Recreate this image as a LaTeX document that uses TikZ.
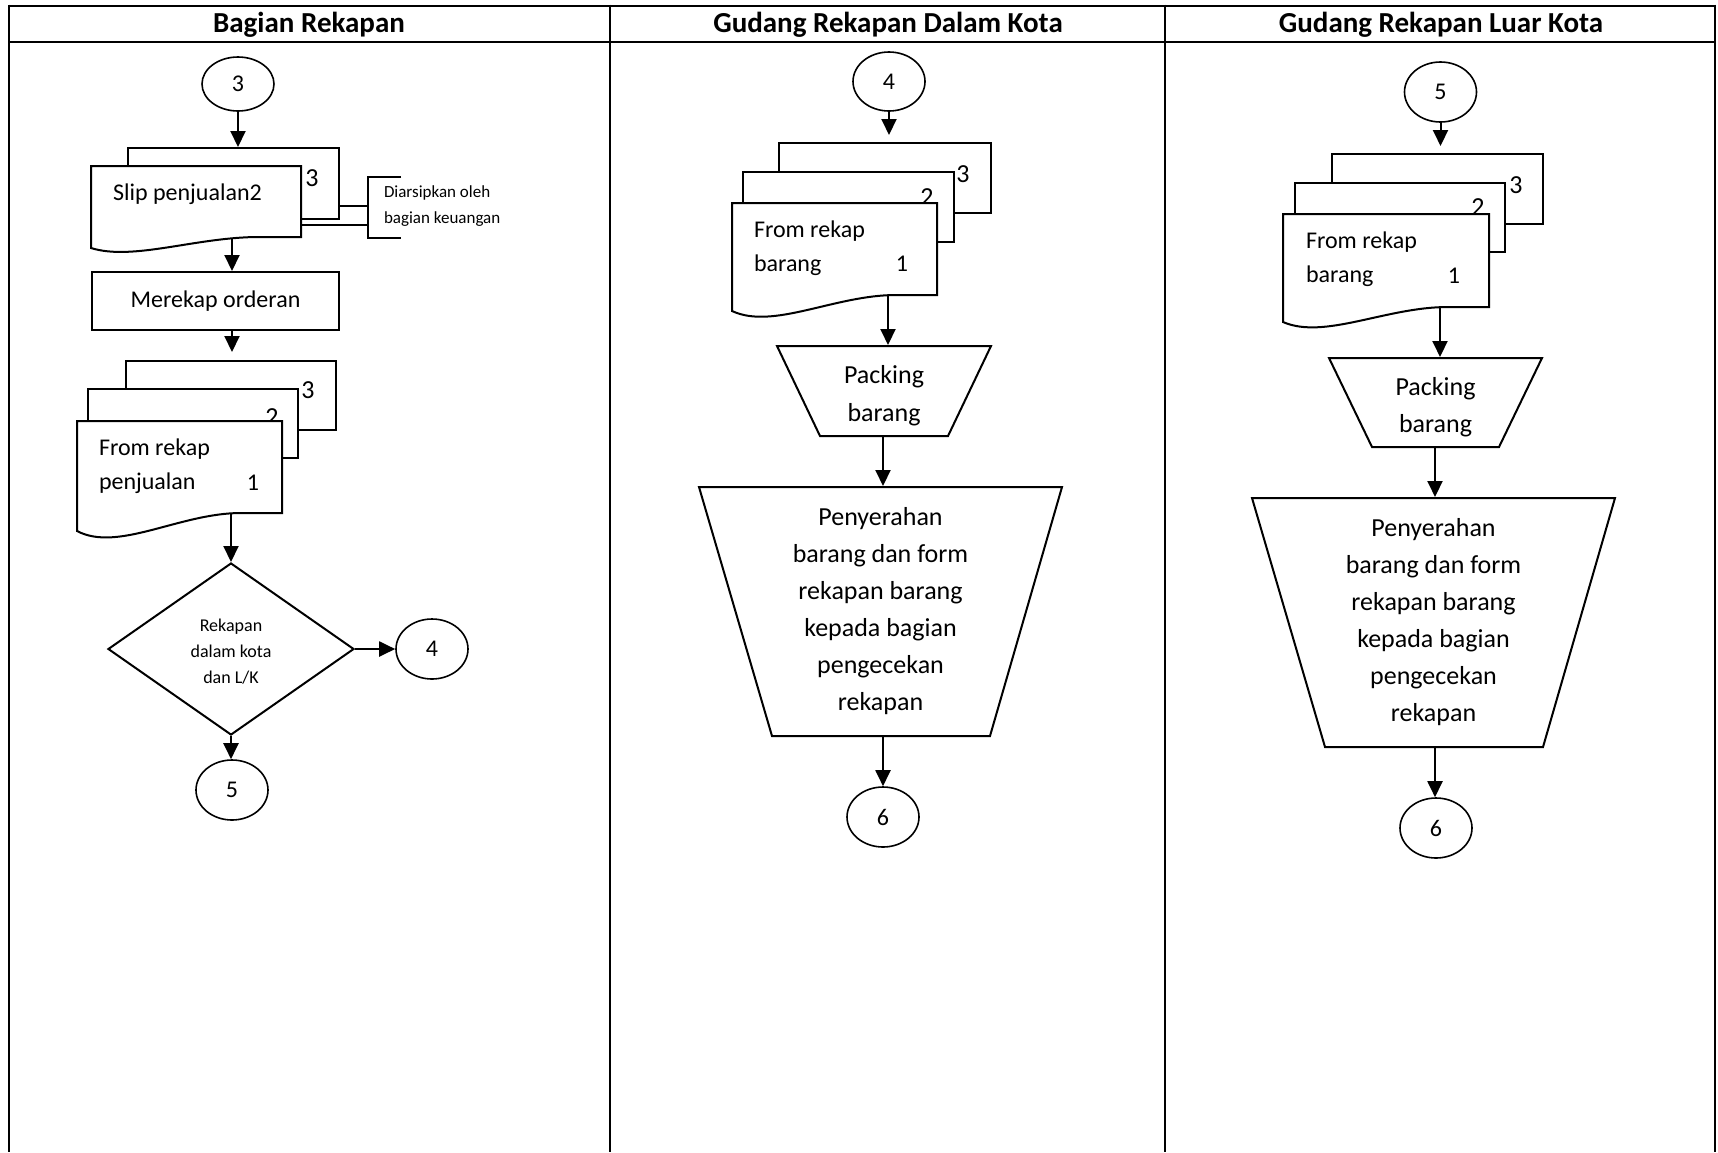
\documentclass[tikz,border=0pt]{standalone}
\usepackage{fontspec}
\setmainfont{Carlito}
\usetikzlibrary{arrows.meta,shapes.geometric,calc}
\newcommand\fsz[2]{\fontsize{#1}{#2}\selectfont}
% L T R yRight yLeft
\newcommand\docsheet[5]{%
  \filldraw[page] (#1,#2) -- (#3,#2) -- (#3,#4) -- ({#1+0.8*(#3-#1)},#4)
   .. controls ({#1+0.5*(#3-#1)},#4) and ({#1+0.2*(#3-#1)},{#5+1.2*(#5-#4)}) .. (#1,#5) -- cycle;}
\newcommand\backsheet[4]{\filldraw[page] (#1,#2) rectangle (#3,#4);}
% top y, top-left x, top-right x, bottom y, bottom-left x, bottom-right x
\newcommand\trapz[6]{\filldraw[page] (#2,#1) -- (#3,#1) -- (#6,#4) -- (#5,#4) -- cycle;}
\tikzset{
  conn/.style={-{Triangle[length=16pt,width=15pt]}, line width=2pt},
  term/.style={ellipse, draw, line width=1.6pt, fill=white, minimum width=72pt, minimum height=60pt, inner sep=0pt, font=\fsz{24}{28}},
  anc/.style={rectangle, draw=none, inner sep=0pt},
  page/.style={draw, fill=white, line width=2pt},
  lbl/.style={inner sep=0pt, font=\fsz{26}{30}},
  body/.style={inner sep=0pt, align=left, font=\fsz{24}{34}},
  hdr/.style={inner sep=0pt, font=\bfseries\fsz{29}{34}},
  frame/.style={line width=2pt}
}
\begin{document}
\begin{tikzpicture}[x=1pt,y=-1pt,line width=2pt]
\useasboundingbox (0,0) rectangle (1718,1152);
% frame
\draw[frame] (8.8,5.5) -- (1715,5.5);
\draw[frame] (8.8,41.5) -- (1715,41.5);
\draw[frame] (8.8,4.5) -- (8.8,1152);
\draw[frame] (610,4.5) -- (610,1152);
\draw[frame] (1165,4.5) -- (1165,1152);
\draw[frame] (1715,4.5) -- (1715,1152);
\node[hdr] (h1) at (309,25) {Bagian Rekapan};
\node[hdr] (h2) at (888,25) {Gudang Rekapan Dalam Kota};
\node[hdr] (h3) at (1441,25) {Gudang Rekapan Luar Kota};

% ================= Lane 1 =================
\coordinate (sp1) at (232,0);
\node[term, minimum height=54pt] (c3) at (238,84) {3};
\backsheet{128}{148}{339}{219}
\node[anc, minimum width=211pt, minimum height=71pt] (s1b) at (233.5,183.5) {};
\node[lbl] (s1n3) at (312,178) {3};
\docsheet{91}{166}{301}{237}{248}
\node[anc, minimum width=210pt, minimum height=71pt] (s1f) at (196,201.5) {};
\node[body, anchor=west] (s1t) at (112,194) {Slip penjualan2};
% archive bracket
\coordinate (brk) at (368,207);
\draw ([yshift=-22.5pt]s1b.east) -- ([yshift=-22.5pt]s1b.east -| brk);
\draw ([yshift=-23.5pt]s1f.east) -- ([yshift=-23.5pt]s1f.east -| brk);
\draw (401,177) -- (368,177) -- (368,238) -- (401,238);
\node[anchor=west, inner sep=0pt, align=left, font=\fsz{17}{26}] (arsip) at (383,206) {Diarsipkan oleh\\bagian keuangan};

\node[draw, rectangle, line width=2pt, minimum width=247pt, minimum height=58pt, inner sep=0pt, font=\fsz{24}{28}] (mrk) at (215.5,301) {Merekap orderan};

\backsheet{126}{361}{336}{430}
\node[anc, minimum width=210pt, minimum height=69pt] (r1b) at (231,395.5) {};
\node[lbl] (r1n3) at (308,390) {3};
\backsheet{88}{389}{298}{458}
\node[lbl] (r1n2) at (272,417) {2};
\docsheet{77}{421}{282}{513}{531}
\node[anc, minimum width=205pt, minimum height=92pt] (r1f) at (179.5,467) {};
\node[body, anchor=west] (r1t) at (98,466.5) {From rekap\\penjualan};
\node[body] (r1n1) at (253,483) {1};

\node[diamond, draw, line width=2pt, minimum width=246pt, minimum height=172pt, inner sep=0pt] (dec) at (231,649) {};
\node[anc, align=center, font=\fsz{18}{26}] (dect) at (231,651.5) {Rekapan\\dalam kota\\dan L/K};
\node[term] (c4a) at (432,649) {4};
\node[term] (c5a) at (232,790) {5};

\draw[conn] (c3.south) -- (c3.south |- s1b.north);
\draw[conn] (s1f.south -| sp1) -- (mrk.north -| sp1);
\draw[conn, shorten >=8pt] (mrk.south -| sp1) -- (r1b.north -| sp1);
\draw[conn] (r1f.south -| dec.north) -- (dec.north);
\draw[conn] (dec.east) -- (c4a.west);
\draw[conn] (dec.south) -- (dec.south |- c5a.north);

% ================= Lane 2 =================
\coordinate (sp2) at (888,0);
\coordinate (sp2b) at (883,0);
\node[term, minimum height=59pt] (c4b) at (889,81.5) {4};
\backsheet{779}{143}{991}{213}
\node[anc, minimum width=212pt, minimum height=70pt] (d2b) at (885,178) {};
\node[lbl] (d2n3) at (963,174) {3};
\backsheet{743}{172}{954}{242}
\node[lbl] (d2n2) at (927,197) {2};
\docsheet{732}{203}{937}{295}{311}
\node[anc, minimum width=205pt, minimum height=92pt] (d2f) at (834.5,249) {};
\node[body, anchor=west] (d2t) at (753,248.5) {From rekap\\barang};
\node[body] (d2n1) at (902,264) {1};
\trapz{346}{777}{991}{436}{820}{948}
\node[anc, minimum width=214pt, minimum height=90pt] (pk2) at (884,391) {};
\node[anc, align=center, font=\fsz{26}{38}] (pk2t) at (884,395.5) {Packing\\barang};
\trapz{487}{699}{1062}{736}{772}{990}
\node[anc, minimum width=363pt, minimum height=249pt, align=center, font=\fsz{26}{37}] (pb2) at (880.5,611.5) {Penyerahan\\barang dan form\\rekapan barang\\kepada bagian\\pengecekan\\rekapan};
\node[term] (c6b) at (883,817) {6};

\draw[conn, shorten >=7pt] (c4b.south) -- (c4b.south |- d2b.north);
\draw[conn] (d2f.south -| sp2) -- (pk2.north -| sp2);
\draw[conn] (pk2.south -| sp2b) -- (pb2.north -| sp2b);
\draw[conn] (pb2.south -| sp2b) -- (c6b.north -| sp2b);

% ================= Lane 3 =================
\coordinate (sp3) at (1440,0);
\coordinate (sp3b) at (1435,0);
\node[term] (c5b) at (1440.5,92) {5};
\backsheet{1332}{154}{1543}{224}
\node[anc, minimum width=211pt, minimum height=70pt] (d3b) at (1437.5,189) {};
\node[lbl] (d3n3) at (1516,185) {3};
\backsheet{1295}{183}{1505}{252}
\node[lbl] (d3n2) at (1478,207) {2};
\docsheet{1283}{214}{1489}{307}{322}
\node[anc, minimum width=206pt, minimum height=93pt] (d3f) at (1386,260.5) {};
\node[body, anchor=west] (d3t) at (1305,259.5) {From rekap\\barang};
\node[body] (d3n1) at (1454,276) {1};
\trapz{358}{1329}{1542}{447}{1372}{1499}
\node[anc, minimum width=213pt, minimum height=89pt] (pk3) at (1435.5,402.5) {};
\node[anc, align=center, font=\fsz{26}{37}] (pk3t) at (1435.5,407) {Packing\\barang};
\trapz{498}{1252}{1615}{747}{1325}{1543}
\node[anc, minimum width=363pt, minimum height=249pt, align=center, font=\fsz{26}{37}] (pb3) at (1433.5,622.5) {Penyerahan\\barang dan form\\rekapan barang\\kepada bagian\\pengecekan\\rekapan};
\node[term] (c6c) at (1436,828) {6};

\draw[conn, shorten >=7pt] (c5b.south) -- (c5b.south |- d3b.north);
\draw[conn] (d3f.south -| sp3) -- (pk3.north -| sp3);
\draw[conn] (pk3.south -| sp3b) -- (pb3.north -| sp3b);
\draw[conn] (pb3.south -| sp3b) -- (c6c.north -| sp3b);
\end{tikzpicture}
\end{document}
